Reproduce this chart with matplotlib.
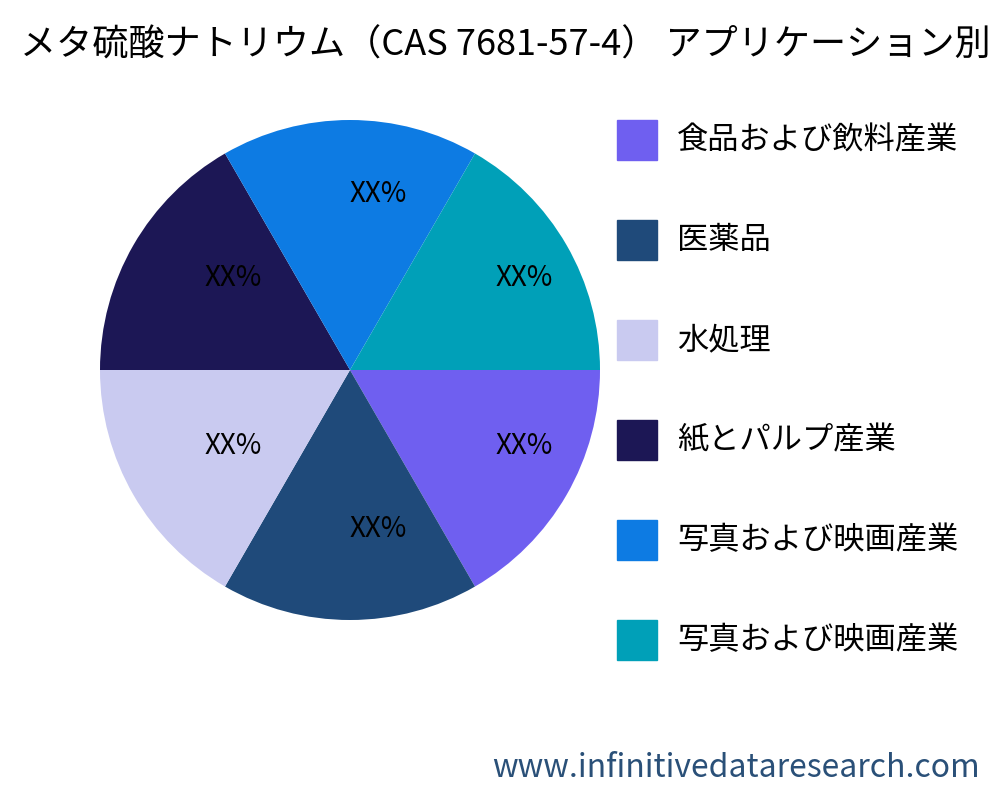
import matplotlib.pyplot as plt
from matplotlib.patches import Rectangle

plt.rcParams['font.family'] = ['Noto Sans CJK JP', 'DejaVu Sans']

# Data
categories = ['食品および飲料産業', '医薬品', '水処理', '紙とパルプ産業', '写真および映画産業', '写真および映画産業']
values = [1, 1, 1, 1, 1, 1]
pct_labels = ['XX%'] * 6
colors = ['#6F5FF0', '#1F4A7A', '#C9CAF0', '#1C1755', '#0D7BE3', '#00A0B8']

title = 'メタ硫酸ナトリウム（CAS 7681-57-4） アプリケーション別'
watermark = 'www.infinitivedataresearch.com'

fig = plt.figure(figsize=(10, 8), dpi=100)
fig.patch.set_facecolor('white')

ax = fig.add_axes([0.1, 0.225, 0.5, 0.625])
wedges, texts = ax.pie(values, colors=colors, startangle=0, counterclock=False,
                       labels=pct_labels, labeldistance=0.67,
                       textprops={'fontsize': 20})
for t in texts:
    t.set_ha('left')
    t.set_va('baseline')
ax.set_xlim(-1, 1)
ax.set_ylim(-1, 1)
ax.set_aspect('equal')

fig.text(0.02, 0.943, title, fontsize=26, ha='left', va='center')

# Legend drawn manually
for i, (cat, col) in enumerate(zip(categories, colors)):
    yc = 1 - (140 + i * 100) / 800
    fig.patches.append(Rectangle((0.617, yc - 0.025), 0.04, 0.05, color=col,
                                 transform=fig.transFigure, figure=fig))
    fig.text(0.677, yc, cat, fontsize=22.5, ha='left', va='center')

fig.text(0.98, 0.04, watermark, fontsize=23, ha='right', va='center', color='#2A5078')

plt.savefig('out.png', dpi=100, facecolor='white')
plt.close()
